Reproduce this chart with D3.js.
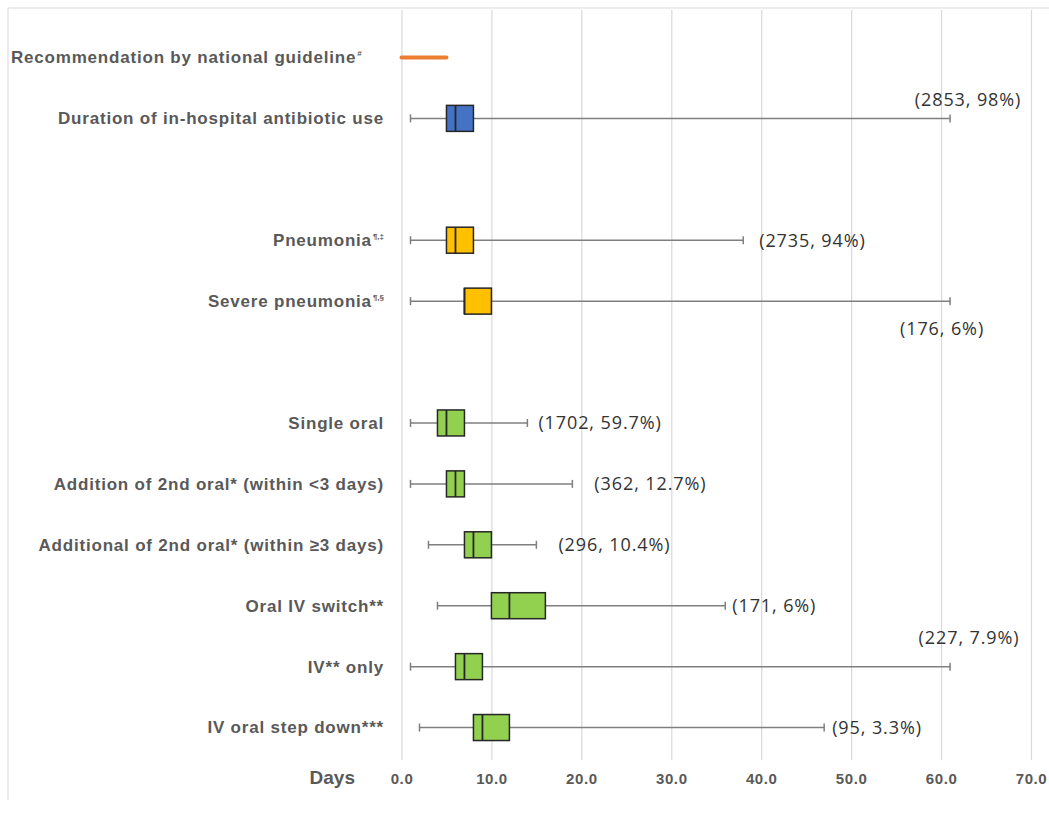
<!DOCTYPE html>
<html><head><meta charset="utf-8">
<script src="https://cdn.jsdelivr.net/npm/d3@7"></script>
<style>
html,body{margin:0;padding:0;background:#fff;}
svg{display:block;}
</style></head>
<body>
<svg id="chart" width="1049" height="820"></svg>
<script>
// ---- data ----
const rows = ["guideline","duration","gap1","pneumonia","severe","gap2","single","add3lt","add3ge","switch","ivonly","stepdown"];
const labels = ["Recommendation by national guideline","Duration of in-hospital antibiotic use","","Pneumonia","Severe pneumonia","","Single oral","Addition of 2nd oral* (within <3 days)","Additional of 2nd oral* (within \u22653 days)","Oral IV switch**","IV** only","IV oral step down***"];
const superscripts = ["#","","","\u00b6,\u2021","\u00b6,\u00a7","","","","","","",""];
const guideline = [0, 5];
const boxRows = ["duration","pneumonia","severe","single","add3lt","add3ge","switch","ivonly","stepdown"];
const whiskerMin = [1, 1, 1, 1, 1, 3, 4, 1, 2];
const q1 = [5, 5, 7, 4, 5, 7, 10, 6, 8];
const median = [6, 6, 7, 5, 6, 8, 12, 7, 9];
const q3 = [8, 8, 10, 7, 7, 10, 16, 9, 12];
const whiskerMax = [61, 38, 61, 14, 19, 15, 36, 61, 47];
const groups = ["all","pneu","pneu","route","route","route","route","route","route"];
const annotations = ["(2853, 98%)","(2735, 94%)","(176, 6%)","(1702, 59.7%)","(362, 12.7%)","(296, 10.4%)","(171, 6%)","(227, 7.9%)","(95, 3.3%)"];
const tickValues = [0,10,20,30,40,50,60,70];

// ---- layout (annotation placement) ----
const annPlace = ["above","right","below","right","right","right","right","above","right"];
const annDx = [18, 16, -8, 11, 22, 22, 7, 19, 8];
const annDy = [-19, 0, 28, 0, 0, 0, 0, -29, 0];
const colors = {all:"#4472C4", pneu:"#FFC000", route:"#92D050"};

const svg = d3.select("#chart");
const x = d3.scaleLinear().domain([0,70]).range([401.5,1031]);
const y = d3.scaleBand().domain(rows).range([27, 758]).paddingInner(0).paddingOuter(0);
const bh = 26;
const yc = r => y(r) + y.bandwidth()/2;

// frame
svg.append("line").attr("x1",8).attr("x2",8).attr("y1",8).attr("y2",800).attr("stroke","#d9d9d9").attr("stroke-width",1);
svg.append("line").attr("x1",8).attr("x2",1049).attr("y1",8).attr("y2",8).attr("stroke","#d9d9d9").attr("stroke-width",1);

// grid via axis
const axis = d3.axisBottom(x).tickValues(tickValues).tickFormat(d3.format(".1f")).tickSize(-750).tickPadding(18);
const gAxis = svg.append("g").attr("transform","translate(0,760)").call(axis);
gAxis.select(".domain").remove();
gAxis.selectAll(".tick line").attr("stroke","#d9d9d9").attr("stroke-width",1.2);
gAxis.selectAll(".tick text").attr("fill","#595959").attr("font-family","Liberation Sans, Arial, sans-serif")
  .attr("font-size",15).attr("font-weight","bold").attr("letter-spacing",0.6).attr("dy","0.4em");

svg.append("text").attr("x",355).attr("y",784).attr("text-anchor","end")
  .attr("font-family","Liberation Sans, Arial, sans-serif").attr("font-size",19).attr("font-weight","bold").attr("fill","#595959").text("Days");

// category labels
const lab = svg.append("g").attr("font-family","Liberation Sans, Arial, sans-serif").attr("font-size",17)
  .attr("font-weight","bold").attr("fill","#595959").attr("letter-spacing",0.8);
rows.forEach((r,i)=>{
  if(!labels[i]) return;
  const left = r === "guideline";
  const t = lab.append("text").attr("x", left ? 11 : 384).attr("y", yc(r)).attr("dy","0.35em")
    .attr("text-anchor", left ? "start" : "end");
  t.append("tspan").text(labels[i]);
  if (superscripts[i]) {
    t.append("tspan").attr("font-size",8).attr("letter-spacing",0).attr("dy","-0.9em").attr("dx",1).text(superscripts[i]);
  }
});

// guideline line
svg.append("line").attr("x1",x(guideline[0])).attr("x2",x(guideline[1]))
  .attr("y1",yc("guideline")).attr("y2",yc("guideline"))
  .attr("stroke","#ED7D31").attr("stroke-width",4).attr("stroke-linecap","round");

// boxplots
const data = boxRows.map((r,i)=>({r, mn:whiskerMin[i], q1:q1[i], md:median[i], q3:q3[i], mx:whiskerMax[i], g:groups[i], ann:annotations[i], place:annPlace[i], dx:annDx[i], dy:annDy[i]}));
const bx = svg.append("g").selectAll("g").data(data).join("g");
bx.append("line").attr("x1",d=>x(d.mn)).attr("x2",d=>x(d.mx)).attr("y1",d=>yc(d.r)).attr("y2",d=>yc(d.r))
  .attr("stroke","#7f7f7f").attr("stroke-width",1.5);
bx.append("line").attr("x1",d=>x(d.mn)).attr("x2",d=>x(d.mn)).attr("y1",d=>yc(d.r)-4).attr("y2",d=>yc(d.r)+4).attr("stroke","#7f7f7f").attr("stroke-width",1.5);
bx.append("line").attr("x1",d=>x(d.mx)).attr("x2",d=>x(d.mx)).attr("y1",d=>yc(d.r)-4).attr("y2",d=>yc(d.r)+4).attr("stroke","#7f7f7f").attr("stroke-width",1.5);
bx.append("rect").attr("x",d=>x(d.q1)).attr("width",d=>x(d.q3)-x(d.q1)).attr("y",d=>yc(d.r)-bh/2).attr("height",bh)
  .attr("fill",d=>colors[d.g]).attr("stroke","#262626").attr("stroke-width",1.5);
bx.append("line").attr("x1",d=>x(d.md)).attr("x2",d=>x(d.md)).attr("y1",d=>yc(d.r)-bh/2).attr("y2",d=>yc(d.r)+bh/2).attr("stroke","#262626").attr("stroke-width",1.8);

// annotations
bx.append("text")
  .attr("font-family","Open Sans, DejaVu Sans, sans-serif").attr("font-size",18).attr("letter-spacing",0.9).attr("fill","#333333")
  .attr("x",d=> x(d.mx)+d.dx)
  .attr("y",d=> yc(d.r)+d.dy)
  .attr("dy","0.35em")
  .attr("text-anchor",d=> d.place==="right" ? "start" : "middle")
  .text(d=>d.ann);
</script>
</body></html>
